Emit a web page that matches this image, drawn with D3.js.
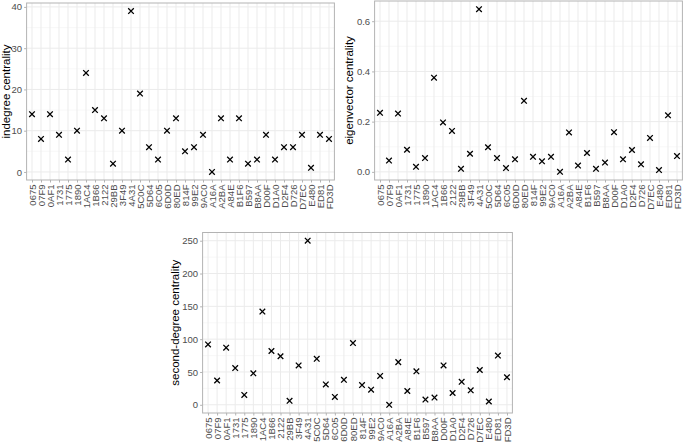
<!DOCTYPE html>
<html><head><meta charset="utf-8">
<script src="https://cdn.jsdelivr.net/npm/d3@7"></script>
<style>body{margin:0;background:#fff}text{font-family:"Liberation Sans",Arial,sans-serif}</style>
</head><body><svg id="c" width="685" height="445"></svg>
<script>
const categories = ["0675","07F9","0AF1","1731","1775","1890","1AC4","1B66","2122","29BB","3F49","4A31","5C0C","5D64","6C05","6D0D","80ED","814F","99E2","9AC0","A16A","A2BA","A84E","B1F6","B597","B8AA","D00F","D1A0","D2F4","D726","D7EC","E480","ED81","FD3D"];
const indegree = [14,8,14,9,3,10,24,15,13,2,10,39,19,6,3,10,13,5,6,9,0,13,3,13,2,3,9,3,6,6,9,1,9,8];
const eigenvector = [0.235,0.045,0.232,0.088,0.02,0.055,0.375,0.197,0.163,0.012,0.072,0.648,0.098,0.055,0.015,0.05,0.283,0.06,0.042,0.06,0.0,0.157,0.025,0.075,0.012,0.037,0.158,0.05,0.087,0.03,0.135,0.007,0.225,0.063];
const secondDegree = [92,37,87,56,15,48,142,82,74,6,60,250,70,31,12,38,94,30,23,44,0,65,21,51,8,11,60,18,35,22,53,5,75,42];
const indegreeTicks = [0,10,20,30,40];
const eigenTicks = [0,0.2,0.4,0.6];
const secondTicks = [0,50,100,150,200,250];

const svg = d3.select("#c");

function panel(o){
  const g = svg.append("g");
  const [lo,hi] = d3.extent(o.values);
  const pad = (hi-lo)*0.05;
  const y = d3.scaleLinear().domain([lo-pad,hi+pad]).range([o.bottom,o.top]);
  const x = d3.scalePoint().domain(categories).range([o.left,o.right]).padding(0.6);
  const ticks = o.ticks;
  const step = ticks[1]-ticks[0];
  const minors = [];
  for(let i=0;i<=ticks.length;i++){ const v = ticks[0]+(i-0.5)*step; if(v>lo-pad && v<hi+pad) minors.push(v); }
  g.selectAll(".mn").data(minors).enter().append("line")
    .attr("x1",o.left).attr("x2",o.right).attr("y1",d=>y(d)).attr("y2",d=>y(d))
    .attr("stroke","#f2f2f2").attr("stroke-width",0.55);
  g.selectAll(".mj").data(ticks).enter().append("line")
    .attr("x1",o.left).attr("x2",o.right).attr("y1",d=>y(d)).attr("y2",d=>y(d))
    .attr("stroke","#ebebeb").attr("stroke-width",1);
  g.selectAll(".vx").data(categories).enter().append("line")
    .attr("x1",d=>x(d)).attr("x2",d=>x(d)).attr("y1",o.top).attr("y2",o.bottom)
    .attr("stroke","#ebebeb").attr("stroke-width",1);
  g.append("rect").attr("x",o.left).attr("y",o.top).attr("width",o.right-o.left).attr("height",o.bottom-o.top)
    .attr("fill","none").attr("stroke","#b3b3b3").attr("stroke-width",1);
  const ya = g.append("g").attr("transform",`translate(${o.left},0)`)
    .call(d3.axisLeft(y).tickValues(ticks).tickSize(2.5).tickPadding(2).tickFormat(o.fmt));
  ya.select(".domain").remove();
  ya.selectAll("line").attr("stroke","#b3b3b3");
  ya.selectAll("text").attr("fill","#4d4d4d").style("font-size","9.5px");
  const xa = g.append("g").attr("transform",`translate(0,${o.bottom})`)
    .call(d3.axisBottom(x).tickSize(2.5).tickPadding(2));
  xa.select(".domain").remove();
  xa.selectAll("line").attr("stroke","#b3b3b3");
  xa.selectAll("text").attr("fill","#4d4d4d").style("font-size","9.5px")
    .attr("transform","rotate(-90)").attr("text-anchor","end").attr("dy","0.32em").attr("x",-4.5).attr("y",0);
  g.append("text").attr("transform",`translate(${o.titleX},${(o.top+o.bottom)/2}) rotate(-90)`)
    .attr("text-anchor","middle").style("font-size","11.5px").attr("fill","#000").text(o.title);
  const s = 2.8;
  g.selectAll(".pt").data(categories).enter().append("path")
    .attr("d",(d,i)=>{const cx=x(d), cy=y(o.values[i]); return `M${cx-s},${cy-s}L${cx+s},${cy+s}M${cx-s},${cy+s}L${cx+s},${cy-s}`;})
    .attr("stroke","#000").attr("stroke-width",1.3).attr("fill","none");
}

panel({values:indegree, ticks:indegreeTicks, fmt:d3.format("d"), left:26.6, right:334.4, top:3, bottom:180, title:"indegree centrality", titleX:10});
panel({values:eigenvector, ticks:eigenTicks, fmt:d3.format(".1f"), left:374.6, right:682.4, top:1, bottom:180, title:"eigenvector centrality", titleX:353});
panel({values:secondDegree, ticks:secondTicks, fmt:d3.format("d"), left:202.6, right:512.4, top:232.5, bottom:413, title:"second-degree centrality", titleX:179});
</script></body></html>
